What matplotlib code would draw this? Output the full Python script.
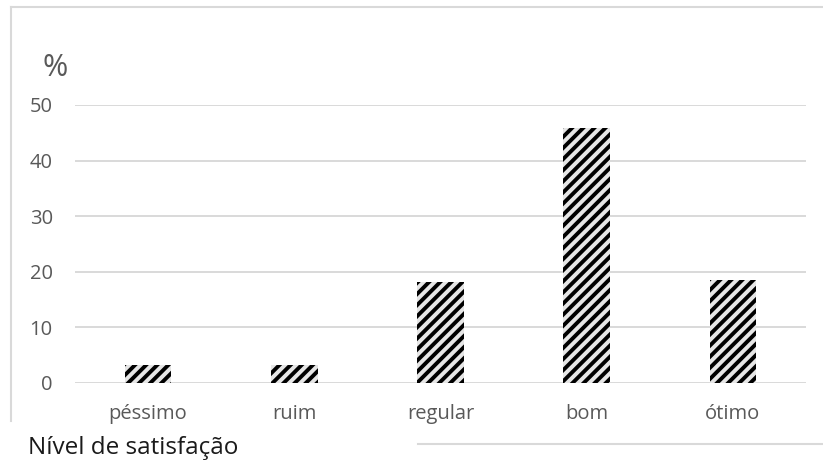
import matplotlib
matplotlib.use("Agg")
import matplotlib.pyplot as plt
from matplotlib.lines import Line2D

# níveis de satisfação e percentuais
categorias = ["péssimo", "ruim", "regular", "bom", "ótimo"]
percentuais = [3.2, 3.2, 18.2, 45.8, 18.6]
yticks = [0, 10, 20, 30, 40, 50]

plt.rcParams['font.family'] = ['Open Sans', 'DejaVu Sans']
plt.rcParams['hatch.linewidth'] = 2.8

W, H = 823, 466
fig = plt.figure(figsize=(W / 100, H / 100), dpi=100)
ax = fig.add_axes([75 / W, 1 - 383 / H, (806 - 75) / W, (383 - 105) / H])

x = range(len(categorias))
ax.bar(x, percentuais, width=0.32, color='#e6e6e6', edgecolor='black',
       linewidth=0, hatch='///', zorder=3)

ax.set_xlim(-0.5, len(categorias) - 0.5)
ax.set_ylim(0, 50)
ax.set_yticks(yticks)
ax.set_xticks(list(x))
ax.set_xticklabels(categorias)
ax.grid(axis='y', color='#d9d9d9', linewidth=1.4, zorder=0)
ax.set_axisbelow(True)
for s in ax.spines.values():
    s.set_visible(False)
ax.tick_params(axis='both', length=0, labelsize=14.5, labelcolor='#595959')
ax.tick_params(axis='x', pad=15)
ax.tick_params(axis='y', pad=16)

# moldura do gráfico
cor_borda = '#d9d9d9'
fig.add_artist(Line2D([11 / W, 1], [1 - 7 / H, 1 - 7 / H], color=cor_borda, lw=1.5))
fig.add_artist(Line2D([11 / W, 11 / W], [1 - 7 / H, 1 - 421 / H], color=cor_borda, lw=1.5))
fig.add_artist(Line2D([418 / W, 1], [1 - 444 / H, 1 - 444 / H], color=cor_borda, lw=1.5))

fig.text(55 / W, 1 - 68 / H, '%', fontsize=22, color='#595959', ha='center', va='center')
fig.text(28 / W, 1 - 448 / H, 'Nível de satisfação', fontsize=17.5, color='#1a1a1a',
         ha='left', va='center')

fig.savefig('out.png', dpi=100)
